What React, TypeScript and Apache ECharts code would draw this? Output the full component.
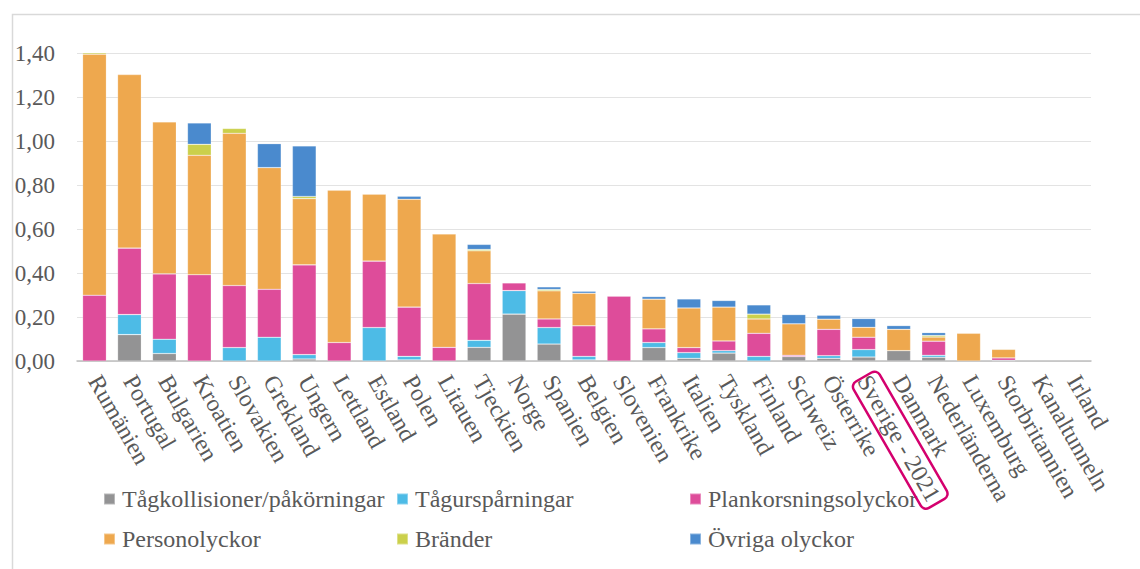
import React, { useEffect, useRef } from "react";
import * as echarts from "echarts";

// Olyckor per miljon tågkilometer, per land
const countries = [
  "Rumänien", "Portugal", "Bulgarien", "Kroatien", "Slovakien", "Grekland",
  "Ungern", "Lettland", "Estland", "Polen", "Litauen", "Tjeckien", "Norge",
  "Spanien", "Belgien", "Slovenien", "Frankrike", "Italien", "Tyskland",
  "Finland", "Schweiz", "Österrike", "Sverige - 2021", "Danmark",
  "Nederländerna", "Luxemburg", "Storbritannien", "Kanaltunneln", "Irland",
];

const tagkollisioner = [
  0, 0.12, 0.034, 0, 0, 0, 0.009, 0, 0, 0.005, 0, 0.062, 0.213, 0.077, 0.005,
  0, 0.061, 0.012, 0.036, 0, 0.02, 0.012, 0.018, 0.047, 0.017, 0, 0, 0, 0,
];
const tagurspar = [
  0, 0.091, 0.065, 0, 0.061, 0.108, 0.02, 0, 0.152, 0.016, 0, 0.032, 0.107,
  0.075, 0.016, 0, 0.023, 0.026, 0.011, 0.021, 0, 0.012, 0.034, 0, 0.009, 0,
  0.003, 0, 0,
];
const plankorsning = [
  0.299, 0.302, 0.297, 0.392, 0.282, 0.218, 0.408, 0.084, 0.302, 0.224, 0.062,
  0.258, 0.035, 0.039, 0.139, 0.295, 0.062, 0.023, 0.044, 0.105, 0.006, 0.12,
  0.056, 0, 0.064, 0, 0.011, 0, 0,
];
const personolyckor = [
  1.096, 0.789, 0.691, 0.543, 0.692, 0.553, 0.301, 0.692, 0.304, 0.49, 0.515,
  0.149, 0, 0.128, 0.148, 0, 0.135, 0.18, 0.154, 0.065, 0.143, 0.046, 0.045,
  0.097, 0.019, 0.126, 0.039, 0, 0,
];
const brander = [
  0.01, 0, 0, 0.05, 0.022, 0, 0.01, 0, 0, 0, 0, 0.006, 0, 0.006, 0, 0, 0, 0,
  0, 0.022, 0, 0, 0, 0, 0.007, 0, 0.003, 0, 0,
];
const ovriga = [
  0, 0, 0, 0.097, 0, 0.109, 0.23, 0, 0, 0.014, 0, 0.023, 0, 0.012, 0.009, 0,
  0.012, 0.041, 0.03, 0.042, 0.042, 0.018, 0.04, 0.017, 0.013, 0, 0, 0, 0,
];

const seriesNames = [
  "Tågkollisioner/påkörningar",
  "Tågurspårningar",
  "Plankorsningsolyckor",
  "Personolyckor",
  "Bränder",
  "Övriga olyckor",
];
const seriesData = [tagkollisioner, tagurspar, plankorsning, personolyckor, brander, ovriga];
const seriesColors = ["#939394", "#4dbbe6", "#de4c9a", "#eea84e", "#cbd04b", "#4a8ace"];

const yTicks = [0, 0.2, 0.4, 0.6, 0.8, 1.0, 1.2, 1.4];
const highlighted = "Sverige - 2021";

const FONT = "'Liberation Serif', 'Times New Roman', serif";
const TEXT = "#595959";
const LABEL_MARGIN = 16;
const LABEL_ANGLE = 60;

const frame = {
  type: "rect",
  left: 10,
  top: 12,
  shape: { width: 1200, height: 620 },
  style: { fill: "none", stroke: "#d9d9d9", lineWidth: 1.5 },
  silent: true,
};

export default function App() {
  const ref = useRef<HTMLDivElement>(null);

  useEffect(() => {
    if (!ref.current) return;
    const chart = echarts.init(ref.current, null, { renderer: "svg" });

    const legendText = {
      fontFamily: FONT,
      fontSize: 24,
      color: TEXT,
      lineHeight: 24,
      padding: [0, 0, 0, 2],
    };
    const legendCol = (names: string[], left: number) => ({
      data: names,
      orient: "vertical",
      left,
      top: 487,
      padding: 0,
      itemWidth: 11,
      itemHeight: 11,
      itemGap: 16,
      icon: "rect",
      selectedMode: false,
      textStyle: legendText,
    });

    chart.setOption({
      animation: false,
      backgroundColor: "#ffffff",
      grid: { left: 77, right: 49, top: 53, bottom: 208, containLabel: false },
      legend: [
        legendCol([seriesNames[0], seriesNames[3]], 103),
        legendCol([seriesNames[1], seriesNames[4]], 396),
        legendCol([seriesNames[2], seriesNames[5]], 689),
      ],
      xAxis: {
        type: "category",
        data: countries,
        axisLine: { lineStyle: { color: "#bfbfbf", width: 1.5 } },
        axisTick: { show: false },
        axisLabel: {
          interval: 0,
          rotate: -LABEL_ANGLE,
          margin: LABEL_MARGIN,
          fontFamily: FONT,
          fontSize: 24,
          color: TEXT,
        },
      },
      yAxis: {
        type: "value",
        min: yTicks[0],
        max: yTicks[yTicks.length - 1],
        interval: 0.2,
        axisLine: { show: false },
        axisTick: { show: false },
        splitLine: { lineStyle: { color: "#e3e3e3", width: 1.2 } },
        axisLabel: {
          margin: 22,
          fontFamily: FONT,
          fontSize: 23,
          color: TEXT,
          formatter: (v: number) => v.toFixed(2).replace(".", ","),
        },
      },
      series: seriesNames.map((name, i) => ({
        name,
        type: "bar",
        stack: "total",
        barWidth: "68%",
        data: seriesData[i].map((v) => (v === 0 ? "-" : v)),
        itemStyle: {
          color: seriesColors[i],
          borderColor: "rgba(255,255,255,0.35)",
          borderWidth: 0.6,
        },
      })),
      graphic: [frame],
    });

    // Rounded frame around the highlighted country label
    const [cx, cy] = chart.convertToPixel({ xAxisIndex: 0, yAxisIndex: 0 }, [highlighted, 0]);
    const angle = (LABEL_ANGLE * Math.PI) / 180;
    const along = 73;
    chart.setOption({
      graphic: [
        frame,
        {
          type: "rect",
          x: cx + along * Math.cos(angle),
          y: cy + LABEL_MARGIN + along * Math.sin(angle),
          rotation: -angle,
          shape: { x: -73, y: -15, width: 146, height: 30, r: 6 },
          style: { fill: "none", stroke: "#d4006e", lineWidth: 2.5 },
          z: 100,
          silent: true,
        },
      ],
    });

    return () => chart.dispose();
  }, []);

  return (
    <div
      ref={ref}
      style={{ position: "fixed", left: 0, top: 0, width: 1140, height: 569 }}
    />
  );
}
